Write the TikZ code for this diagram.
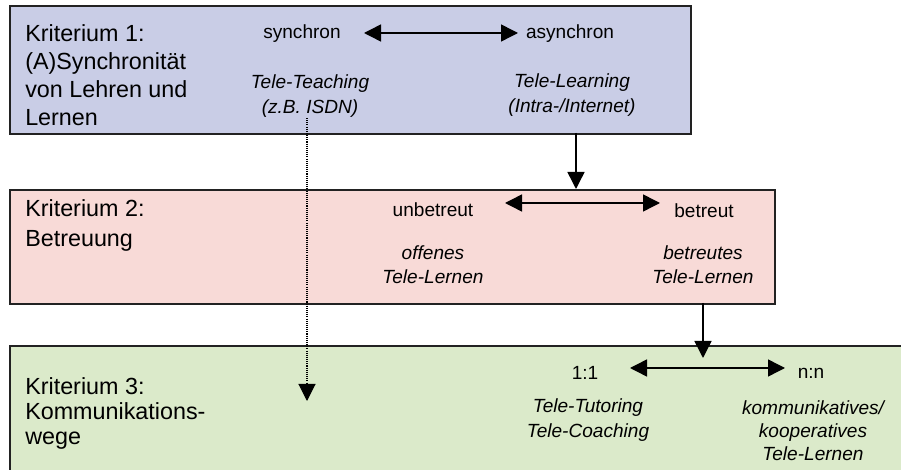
\documentclass[tikz,border=0pt]{standalone}
\usepackage{fontspec}
\setmainfont{Liberation Sans}
\usetikzlibrary{arrows.meta}
\definecolor{bluebox}{HTML}{C9CDE6}
\definecolor{redbox}{HTML}{F8DAD7}
\definecolor{greenbox}{HTML}{DBEACA}
\definecolor{edge}{HTML}{222222}
\tikzset{
  box/.style={draw=edge, line width=1.3pt, inner sep=0pt, anchor=north west},
  bigtext/.style={align=left, anchor=west, inner sep=0pt},
  smalltext/.style={font=\fontsize{14.3}{18}\selectfont, inner sep=0pt},
  italtext/.style={font=\fontsize{14.3}{18.75}\selectfont\itshape, align=center, inner sep=0pt},
  tip/.tip={Triangle[length=12.75pt,width=12.75pt]},
  arr/.style={line width=1.1pt, -tip},
  dbl/.style={line width=1.1pt, tip-tip},
  dotarr/.style={line width=0.8pt, dash pattern=on 0.8pt off 0.8pt, -{Triangle[length=12.75pt,width=12.75pt]}}
}
\begin{document}
\begin{tikzpicture}[x=0.75pt,y=-0.75pt]
\useasboundingbox (0,0) rectangle (901,470);
% boxes
\node[box, fill=bluebox, minimum width=510.75pt, minimum height=96pt] (b1) at (9,5) {};
\node[box, fill=redbox, minimum width=573.75pt, minimum height=85.5pt] (b2) at (9,189) {};
\node[box, fill=greenbox, minimum width=690pt, minimum height=110pt] (b3) at (9,345) {};
% criterion labels
\node[bigtext, font=\fontsize{17.5}{21}\selectfont] (k1) at (25,75) {Kriterium 1:\\(A)Synchronität\\von Lehren und\\Lernen};
\node[bigtext, font=\fontsize{17.5}{22.5}\selectfont] (k2) at (25,225) {Kriterium 2:\\Betreuung};
\node[bigtext, font=\fontsize{17.5}{18.75}\selectfont] (k3) at (25,413) {Kriterium 3:\\Kommunikations-\\wege};
% box 1 content
\node[smalltext] (syn) at (302,34) {synchron};
\node[smalltext] (asyn) at (570,34) {asynchron};
\node[italtext] (tt) at (310,96) {Tele-Teaching\\(z.B. ISDN)};
\node[italtext] (tl) at (572,95) {Tele-Learning\\(Intra-/Internet)};
% box 2 content
\node[smalltext] (unb) at (433,210) {unbetreut};
\node[smalltext] (bet) at (704,211) {betreut};
\node[italtext, font=\fontsize{14.3}{18}\selectfont\itshape] (off) at (433,265) {offenes\\Tele-Lernen};
\node[italtext, font=\fontsize{14.3}{18}\selectfont\itshape] (btl) at (703,265) {betreutes\\Tele-Lernen};
% box 3 content
\node[smalltext] (one) at (585,373) {1:1};
\node[smalltext] (nn) at (811,373) {n:n};
\node[italtext] (tut) at (588,420) {Tele-Tutoring\\Tele-Coaching};
\node[italtext, font=\fontsize{14.3}{17.25}\selectfont\itshape] (kom) at (813,431) {kommunikatives/\\kooperatives\\Tele-Lernen};
% connector end points
\coordinate (a1l) at (364,33);
\coordinate (a1r) at (518,33);
\coordinate (a2l) at (505,203);
\coordinate (a2r) at (660,203);
\coordinate (a3l) at (630,368);
\coordinate (a3r) at (785,368);
\coordinate (d1) at (576,133);
\coordinate (d2) at (703,303);
\coordinate (d2e) at (703,358);
\coordinate (dots) at (307,118);
\coordinate (dote) at (307,401);
% connectors
\draw[dbl] (a1l) -- (a1r);
\draw[dbl] (a2l) -- (a2r);
\draw[dbl] (a3l) -- (a3r);
\draw[arr] (d1) -- (d1 |- b2.north);
\draw[arr] (d2) -- (d2e);
\draw[dotarr] (dots) -- (dote);
\end{tikzpicture}
\end{document}
